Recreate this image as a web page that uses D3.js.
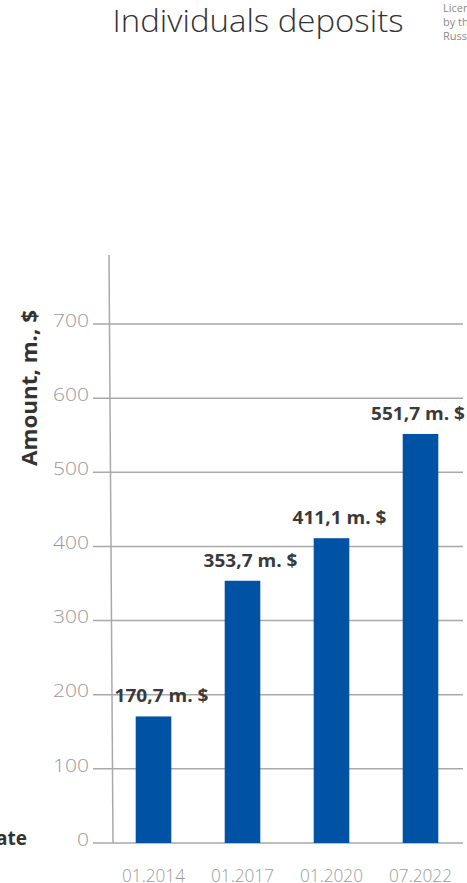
<!DOCTYPE html>
<html>
<head>
<meta charset="utf-8">
<script src="https://cdn.jsdelivr.net/npm/d3@7"></script>
<style>
  html, body { margin: 0; padding: 0; background: #fff; overflow: hidden; }
  svg { display: block; }
</style>
</head>
<body>
<div id="chart"></div>
<script>
// chart data
var periods = ["01.2014", "01.2017", "01.2020", "07.2022"];
var amounts = [170.7, 353.7, 411.1, 551.7];
var amountLabels = ["170,7 m. $", "353,7 m. $", "411,1 m. $", "551,7 m. $"];
var yTicks = [0, 100, 200, 300, 400, 500, 600, 700];

var width = 467, height = 883;
var font = "'Open Sans', 'DejaVu Sans', sans-serif";
var labelW = 94;

var svg = d3.select("#chart").append("svg")
  .attr("width", width)
  .attr("height", height)
  .style("font-family", font);

var x = d3.scaleBand()
  .domain(periods)
  .range([109, 465])
  .paddingInner(0.6)
  .paddingOuter(0.3);

var y = d3.scaleLinear()
  .domain([0, 700])
  .range([843, 324]);

// title
svg.append("text")
  .attr("x", 258)
  .attr("y", 32)
  .attr("text-anchor", "middle")
  .attr("font-size", 31)
  .attr("font-weight", 300)
  .attr("fill", "#333")
  .attr("textLength", 291)
  .attr("lengthAdjust", "spacingAndGlyphs")
  .text("Individuals deposits");

// small note on the right, cut by the window like in the original
var note = svg.append("text")
  .attr("x", 443)
  .attr("y", 12)
  .attr("font-size", 11)
  .attr("fill", "#8a8a8a");
["Licensed", "by the Bank of", "Russia"].forEach(function (t, i) {
  note.append("tspan").attr("x", 443).attr("dy", i ? 14 : 0).text(t);
});

// grid
var grid = svg.append("g").attr("class", "grid");
grid.selectAll("line")
  .data(yTicks)
  .enter().append("line")
  .attr("x1", 93)
  .attr("x2", 463)
  .attr("y1", function (d) { return y(d); })
  .attr("y2", function (d) { return y(d); })
  .attr("stroke", "#a9a9a9")
  .attr("stroke-width", 1.5);

grid.selectAll("text")
  .data(yTicks)
  .enter().append("text")
  .attr("x", 89)
  .attr("y", function (d) { return y(d) - 4; })
  .attr("dy", "0.35em")
  .attr("text-anchor", "end")
  .attr("font-size", 19)
  .attr("font-weight", 300)
  .attr("fill", "#9a9a9a")
  .attr("textLength", function (d) { return String(d).length * 12; })
  .attr("lengthAdjust", "spacingAndGlyphs")
  .text(function (d) { return d; });

// vertical axis line, slightly leaning
svg.append("line")
  .attr("x1", 109).attr("y1", 255)
  .attr("x2", 113).attr("y2", y(0))
  .attr("stroke", "#a9a9a9")
  .attr("stroke-width", 1.5);

// bars
svg.selectAll(".bar")
  .data(amounts)
  .enter().append("rect")
  .attr("class", "bar")
  .attr("x", function (d, i) { return x(periods[i]); })
  .attr("width", x.bandwidth())
  .attr("y", function (d) { return y(d); })
  .attr("height", function (d) { return y(0) - y(d); })
  .attr("fill", "#0052a5");

// value labels (kept inside the window on the right)
svg.selectAll(".val")
  .data(amounts)
  .enter().append("text")
  .attr("class", "val")
  .attr("x", function (d, i) {
    return Math.min(x(periods[i]) + x.bandwidth() / 2 + 8, 465 - labelW / 2);
  })
  .attr("y", function (d) { return y(d) - 14; })
  .attr("text-anchor", "middle")
  .attr("font-size", 18)
  .attr("font-weight", 700)
  .attr("fill", "#3a3a3a")
  .attr("textLength", labelW)
  .attr("lengthAdjust", "spacingAndGlyphs")
  .text(function (d, i) { return amountLabels[i]; });

// category labels
svg.selectAll(".cat")
  .data(periods)
  .enter().append("text")
  .attr("class", "cat")
  .attr("x", function (d) { return x(d) + x.bandwidth() / 2; })
  .attr("y", 882)
  .attr("text-anchor", "middle")
  .attr("font-size", 18)
  .attr("font-weight", 300)
  .attr("fill", "#9a9a9a")
  .attr("textLength", 63)
  .attr("lengthAdjust", "spacingAndGlyphs")
  .text(function (d) { return d; });

// axis titles
svg.append("text")
  .attr("transform", "translate(37,388) rotate(-90)")
  .attr("text-anchor", "middle")
  .attr("font-size", 22)
  .attr("font-weight", 700)
  .attr("fill", "#333")
  .attr("textLength", 156)
  .attr("lengthAdjust", "spacingAndGlyphs")
  .text("Amount, m., $");

svg.append("text")
  .attr("x", 27)
  .attr("y", 845)
  .attr("text-anchor", "end")
  .attr("font-size", 19)
  .attr("font-weight", 700)
  .attr("fill", "#333")
  .text("Date");
</script>
</body>
</html>
